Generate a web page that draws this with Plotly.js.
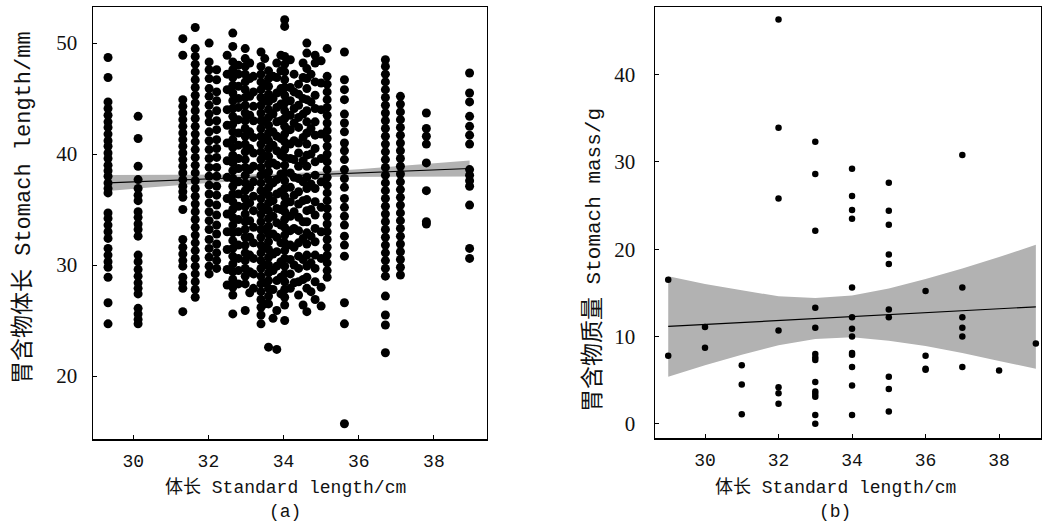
<!DOCTYPE html>
<html>
<head>
<meta charset="utf-8">
<script src="https://cdn.plot.ly/plotly-3.0.1.min.js"></script>
<style>html,body{margin:0;padding:0;background:#fff;}#chart{width:1042px;height:525px;}</style>
</head>
<body>
<div id="chart"></div>
<script>
// ---------- Panel (a): stomach length vs standard length ----------
const colX = [29.33, 30.13, 31.32, 31.65, 32.02, 32.22, 32.5, 32.65, 32.8, 32.98, 33.1, 33.2, 33.4, 33.5, 33.6, 33.72, 33.82, 33.93, 34.03, 34.18, 34.28, 34.4, 34.52, 34.62, 34.73, 34.84, 35.0, 35.16, 35.62, 36.71, 37.11, 37.8, 38.95];
const colY = [
  [48.7,46.9,44.7,44.1,43.5,42.9,42.4,41.8,41.2,40.7,40.1,39.6,39.0,38.5,38.0,37.4,36.9,36.5,34.7,34.2,33.6,33.0,32.4,31.5,30.9,30.3,29.8,28.9,26.6,24.7],
  [43.4,41.4,38.9,37.7,36.9,36.3,35.8,34.8,34.3,33.7,33.2,32.6,30.9,30.3,29.6,29.0,28.4,27.9,27.4,26.1,25.6,25.1,24.7],
  [50.4,48.9,44.9,44.3,43.7,43.1,42.5,41.9,41.3,40.7,40.1,39.5,38.9,38.3,37.7,37.1,36.6,36.1,35.0,32.3,31.6,31.0,30.4,29.9,28.9,28.4,27.9,25.8],
  [51.4,49.5,48.8,48.1,47.4,46.7,46.0,45.3,44.6,43.9,43.2,42.5,41.8,41.1,40.4,39.7,39.0,38.3,37.6,36.9,36.2,35.5,34.8,34.1,33.4,32.7,32.0,31.3,30.6,29.9,29.2,28.5,27.8,27.1],
  [50.0,48.3,47.6,46.8,45.9,45.2,44.4,43.6,42.9,42.0,41.2,40.4,39.6,38.8,38.0,37.2,36.4,35.6,34.8,34.0,33.2,32.3,31.5,30.7,29.9,29.2],
  [47.6,46.7,45.6,44.8,43.9,43.0,42.2,41.3,40.5,39.7,38.8,38.0,37.1,36.3,35.4,34.5,33.6,32.8,31.9,31.1,30.4,29.7],
  [48.9,47.2,45.8,44.0,42.6,41.0,39.4,37.9,36.0,34.6,33.0,31.4,29.6,28.2],
  [50.9,49.7,48.3,47.6,46.9,46.2,45.5,44.8,44.1,43.4,42.7,42.0,41.3,40.6,39.9,39.2,38.5,37.8,37.1,36.4,35.7,35.0,34.3,33.6,32.9,32.2,31.5,30.8,30.1,29.4,28.7,28.0,27.3,25.6],
  [48.0,47.2,46.1,45.0,44.2,43.1,41.9,40.8,39.6,38.7,37.5,36.4,35.3,34.1,33.0,31.8,30.6,29.5,28.3],
  [49.5,48.6,47.9,47.2,46.5,45.8,45.1,44.4,43.7,43.0,42.3,41.6,40.9,40.2,39.5,38.8,38.1,37.4,36.7,36.0,35.3,34.6,33.9,33.2,32.5,31.8,31.1,30.4,29.7,29.0,28.3,25.9],
  [48.2,46.8,45.2,43.5,42.0,40.5,38.6,37.0,35.6,34.0,32.5,30.9,29.4,27.5],
  [47.0,45.6,44.3,43.0,41.5,40.1,38.9,37.5,36.2,34.9,33.4,32.0,30.6,29.2,27.9],
  [49.2,47.9,47.2,46.5,45.8,45.1,44.4,43.7,43.0,42.3,41.6,40.9,40.2,39.5,38.8,38.1,37.4,36.7,36.0,35.3,34.6,33.9,33.2,32.5,31.8,31.1,30.4,29.7,29.0,28.3,27.6,26.9,26.2,25.5,24.7],
  [48.6,46.2,44.8,43.0,41.3,39.8,38.2,36.6,35.0,33.2,31.6,30.0,28.4,26.5],
  [47.5,46.8,46.1,45.4,44.7,44.0,43.3,42.6,41.9,41.2,40.5,39.8,39.1,38.4,37.7,37.0,36.3,35.6,34.9,34.2,33.5,32.8,32.1,31.4,30.7,30.0,29.3,28.6,27.9,27.2,26.5,22.6],
  [47.0,45.0,43.6,42.0,40.8,39.2,37.4,35.8,34.4,32.8,31.0,29.5,27.8,25.2],
  [48.2,46.9,45.5,44.2,42.9,41.6,40.3,39.0,37.7,36.4,35.1,33.8,32.5,31.2,29.9,28.6,25.9,22.4],
  [48.9,47.5,45.9,44.5,43.0,41.4,39.9,38.2,36.6,35.0,33.6,32.0,30.3,28.9,27.4],
  [52.1,51.5,48.8,48.1,47.4,46.7,46.0,45.3,44.6,43.9,43.2,42.5,41.8,41.1,40.4,39.7,39.0,38.3,37.6,36.9,36.2,35.5,34.8,34.1,33.4,32.7,32.0,31.3,30.6,29.9,29.2,28.5,27.8,27.1,26.4,25.0],
  [48.5,46.0,44.8,43.5,42.2,40.9,39.6,38.3,37.0,35.7,34.4,33.1,31.8,30.5,29.2,27.9],
  [47.2,45.6,44.1,42.8,41.2,39.5,37.9,36.3,34.8,33.3,31.6,30.0,28.4],
  [46.3,45.4,44.4,43.3,42.4,41.0,40.1,38.9,37.8,36.6,35.5,34.3,33.1,32.0,30.8,29.7,28.5,27.3],
  [48.2,46.9,45.0,43.6,41.5,39.4,37.5,35.8,33.9,32.4,30.5,28.7,26.4],
  [50.0,49.1,47.7,46.8,45.9,44.9,43.9,42.9,41.9,40.9,39.9,38.9,37.9,36.9,35.9,34.9,33.9,32.9,31.9,30.9,29.9,28.9,27.9,25.8],
  [47.2,44.7,42.3,40.0,37.3,35.0,32.6,30.2,27.6],
  [48.9,48.2,46.5,45.3,44.1,42.9,41.7,40.5,39.3,38.1,36.9,35.7,34.5,33.3,32.1,30.9,29.7,28.5,26.9],
  [48.4,46.4,44.0,41.8,39.6,37.5,35.2,33.0,30.6,28.0,26.3],
  [49.5,47.0,46.3,45.6,44.9,44.2,43.5,42.8,42.1,41.4,40.7,40.0,39.3,38.6,37.9,37.2,36.5,35.8,35.1,34.4,33.7,33.0,32.3,31.6,30.9,30.2,29.5,28.9],
  [49.2,46.7,45.8,44.9,43.6,42.8,42.0,41.0,40.3,39.5,38.6,37.8,37.0,36.0,35.2,34.4,33.6,32.6,31.8,30.8,26.6,24.7,15.7],
  [48.5,47.9,47.2,46.5,45.8,45.1,44.4,43.7,43.0,42.3,41.6,40.9,40.2,39.5,38.8,38.1,37.4,36.7,36.0,35.3,34.6,33.9,33.2,32.5,31.8,31.1,30.4,29.7,29.0,27.2,25.5,24.6,22.1],
  [45.2,44.5,43.8,43.1,42.4,41.7,41.0,40.3,39.6,38.9,38.2,37.5,36.8,36.1,35.4,34.7,34.0,33.3,32.6,31.9,31.2,30.5,29.8,29.1],
  [43.7,42.3,41.6,40.9,39.2,36.7,33.9,33.7],
  [47.3,45.5,44.7,43.4,42.5,41.7,40.9,38.6,38.1,37.6,37.1,35.4,31.5,30.6]
];
const fitAX = [29.33, 30.5, 32, 33, 34, 35, 36, 37, 38, 38.95];
const fitAY = [37.40, 37.56, 37.76, 37.90, 38.03, 38.17, 38.30, 38.44, 38.57, 38.70];
const bandAUpper = [38.12, 38.12, 38.12, 38.16, 38.23, 38.41, 38.64, 38.90, 39.17, 39.43];
const bandALower = [36.68, 37.00, 37.40, 37.64, 37.83, 37.93, 37.96, 37.98, 37.97, 37.97];

// ---------- Panel (b): stomach mass vs standard length ----------
const massX = [29,29, 30,30, 31,31,31,
  32,32,32,32,32,32,32,
  33,33,33,33,33,33,33,33,33,33,33,33,33,33,
  34,34,34,34,34,34,34,34,34,34,34,34,34,
  35,35,35,35,35,35,35,35,35,35,
  36,36,36,36,
  37,37,37,37,37,37,
  38, 39];
const massY = [16.5,7.8, 11.1,8.7, 6.7,4.5,1.1,
  46.3,33.9,25.8,10.7,4.2,3.5,2.3,
  32.3,28.6,22.1,13.3,11.0,8.0,7.6,7.3,4.8,3.7,3.4,3.1,1.0,0.0,
  29.2,26.1,24.5,23.5,15.6,12.2,10.9,10.0,8.1,7.9,6.5,4.4,1.0,
  27.6,24.4,22.8,19.4,18.3,13.1,12.2,5.4,4.0,1.4,
  15.2,7.8,6.3,6.2,
  30.8,15.6,12.2,11.0,10.0,6.5,
  6.1, 9.2];
const fitBX = [29, 30, 31, 32, 33, 34, 35, 36, 37, 38, 39];
const fitBY = [11.15, 11.38, 11.60, 11.83, 12.05, 12.28, 12.50, 12.73, 12.95, 13.18, 13.40];
const bandBUpper = [16.9, 16.0, 15.3, 14.6, 14.4, 14.7, 15.5, 16.6, 17.8, 19.1, 20.5];
const bandBLower = [5.4, 6.7, 7.9, 9.0, 9.7, 9.9, 9.5, 8.9, 8.1, 7.2, 6.3];

const tickX = [30, 32, 34, 36, 38];
const tickYA = [20, 30, 40, 50];
const tickYB = [0, 10, 20, 30, 40];

// flatten panel (a)
const aX = [], aY = [];
colX.forEach((x, i) => colY[i].forEach(y => { aX.push(x); aY.push(y); }));

const bandColor = 'rgb(178,178,178)';
function band(xs, up, lo, xa, ya) {
  return {x: xs.concat(xs.slice().reverse()), y: up.concat(lo.slice().reverse()),
    type: 'scatter', mode: 'lines', fill: 'toself', fillcolor: bandColor,
    line: {width: 0, color: bandColor}, xaxis: xa, yaxis: ya, hoverinfo: 'skip'};
}

const traces = [
  band(fitAX, bandAUpper, bandALower, 'x', 'y'),
  {x: aX, y: aY, type: 'scatter', mode: 'markers', marker: {color: '#000', size: 9}, xaxis: 'x', yaxis: 'y'},
  {x: fitAX, y: fitAY, type: 'scatter', mode: 'lines', line: {color: '#000', width: 1.2}, xaxis: 'x', yaxis: 'y'},
  band(fitBX, bandBUpper, bandBLower, 'x2', 'y2'),
  {x: massX, y: massY, type: 'scatter', mode: 'markers', marker: {color: '#000', size: 6.5}, xaxis: 'x2', yaxis: 'y2'},
  {x: fitBX, y: fitBY, type: 'scatter', mode: 'lines', line: {color: '#000', width: 1.2}, xaxis: 'x2', yaxis: 'y2'}
];

const monoFont = 'Liberation Mono, Noto Sans CJK SC, monospace';
const axBase = {showline: true, mirror: true, linecolor: '#000', linewidth: 1.5,
  ticks: 'inside', ticklen: 4, tickwidth: 1, tickcolor: '#000', showgrid: false, zeroline: false};

function yTitle(cjk, latin, latinSize) {
  return '<span style="font-family:Noto Sans CJK SC;font-size:23px">' + cjk + '</span>' +
    '<span style="font-family:Liberation Mono;font-size:' + latinSize + 'px"> ' + latin + '</span>';
}

const layout = {
  width: 1042, height: 525,
  margin: {l: 0, r: 0, t: 0, b: 0, pad: 0},
  paper_bgcolor: '#fff', plot_bgcolor: '#fff',
  showlegend: false,
  xaxis: Object.assign({}, axBase, {domain: [93/1042, 486.5/1042], range: [28.93, 39.4],
    tickvals: tickX, ticktext: tickX.map(String), anchor: 'y',
    tickfont: {family: monoFont, size: 18, color: '#111'}, ticklabelstandoff: 5}),
  yaxis: Object.assign({}, axBase, {domain: [(525-439.3)/525, (525-7)/525], range: [14.3, 53.25],
    tickvals: tickYA, ticktext: tickYA.map(String), anchor: 'x',
    tickfont: {family: 'Liberation Serif, serif', size: 21, color: '#111'}, ticklabelstandoff: 10}),
  xaxis2: Object.assign({}, axBase, {domain: [655/1042, 1041/1042], range: [28.64, 39.14],
    tickvals: tickX, ticktext: tickX.map(String), anchor: 'y2',
    tickfont: {family: monoFont, size: 18, color: '#111'}, ticklabelstandoff: 5}),
  yaxis2: Object.assign({}, axBase, {domain: [(525-438.3)/525, (525-7)/525], range: [-1.66, 47.74],
    tickvals: tickYB, ticktext: tickYB.map(String), anchor: 'x2',
    tickfont: {family: 'Liberation Serif, serif', size: 21, color: '#111'}, ticklabelstandoff: 14}),
  annotations: [
    {text: yTitle('胃含物体长', 'Stomach length/mm', 22), xref: 'paper', yref: 'paper', x: 20/1042, y: 1 - 208/525,
      textangle: -90, showarrow: false, font: {family: monoFont, size: 22, color: '#111'}, xanchor: 'center', yanchor: 'middle'},
    {text: yTitle('胃含物质量', 'Stomach mass/g', 21), xref: 'paper', yref: 'paper', x: 590/1042, y: 1 - 260/525,
      textangle: -90, showarrow: false, font: {family: monoFont, size: 21, color: '#111'}, xanchor: 'center', yanchor: 'middle'},
    {text: '体长 Standard length/cm', xref: 'paper', yref: 'paper', x: 285/1042, y: 1 - 487/525,
      showarrow: false, font: {family: monoFont, size: 18, color: '#111'}, xanchor: 'center', yanchor: 'middle'},
    {text: '体长 Standard length/cm', xref: 'paper', yref: 'paper', x: 835/1042, y: 1 - 487/525,
      showarrow: false, font: {family: monoFont, size: 18, color: '#111'}, xanchor: 'center', yanchor: 'middle'},
    {text: '(a)', xref: 'paper', yref: 'paper', x: 285/1042, y: 1 - 512/525,
      showarrow: false, font: {family: monoFont, size: 18, color: '#111'}, xanchor: 'center', yanchor: 'middle'},
    {text: '(b)', xref: 'paper', yref: 'paper', x: 835/1042, y: 1 - 512/525,
      showarrow: false, font: {family: monoFont, size: 18, color: '#111'}, xanchor: 'center', yanchor: 'middle'}
  ]
};

Plotly.newPlot('chart', traces, layout, {displayModeBar: false, staticPlot: true});
</script>
</body>
</html>
